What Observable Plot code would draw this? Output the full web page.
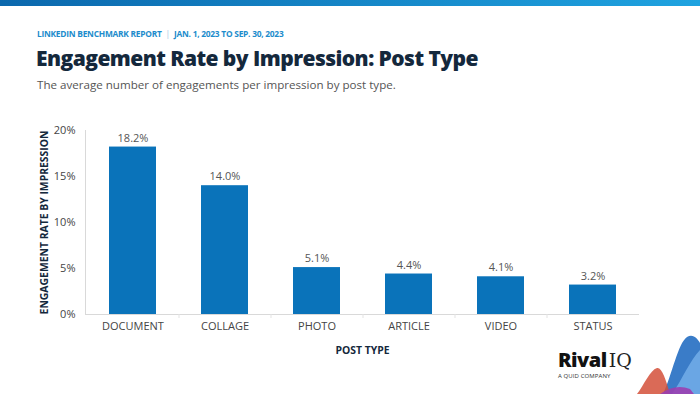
<!DOCTYPE html>
<html>
<head>
<meta charset="utf-8">
<script src="https://cdn.jsdelivr.net/npm/d3@7"></script>
<script src="https://cdn.jsdelivr.net/npm/@observablehq/plot@0.6"></script>
<style>
  html, body { margin: 0; padding: 0; background: #fff; }
  #page { position: relative; width: 700px; height: 394px; overflow: hidden; font-family: "Open Sans", sans-serif; }
  #topbar { position: absolute; left: 0; top: 0; width: 700px; height: 6px; background: linear-gradient(90deg, #0b68ad, #1fa3e0); }
  #kicker { position: absolute; left: 37px; top: 28px; font-size: 8.4px; font-weight: 700; color: #1d8ccc; letter-spacing: -0.25px; white-space: nowrap; }
  #kicker .sep { color: #9cc7e4; font-weight: 400; margin: 0 4px; }
  #title { position: absolute; left: 36px; top: 44px; font-size: 21px; font-weight: 800; color: #14283c; letter-spacing: -0.55px; white-space: nowrap; }
  #subtitle { position: absolute; left: 37px; top: 77px; font-size: 11.6px; color: #555; white-space: nowrap; }
  #chart { position: absolute; left: 0; top: 120px; }
  #logo { position: absolute; left: 558px; top: 350px; white-space: nowrap; line-height: 1; }
  #logo .rival { font-family: "Open Sans", sans-serif; font-weight: 800; font-size: 20px; color: #111; letter-spacing: -0.5px; }
  #logo .iq { font-family: "DejaVu Serif", serif; font-weight: 300; font-size: 19px; color: #222; margin-left: 2px; }
  #logo .quid { display: block; font-size: 6px; color: #333; margin-top: 3px; letter-spacing: 0.1px; }
  #deco { position: absolute; left: 630px; top: 325px; }
</style>
</head>
<body>
<div id="page">
  <div id="topbar"></div>
  <div id="kicker">LINKEDIN BENCHMARK REPORT<span class="sep">|</span>JAN. 1, 2023 TO SEP. 30, 2023</div>
  <div id="title">Engagement Rate by Impression: Post Type</div>
  <div id="subtitle">The average number of engagements per impression by post type.</div>
  <div id="chart"></div>
  <div id="logo"><span class="rival">Rival</span><span class="iq">IQ</span><span class="quid">A QUID COMPANY</span></div>
  <svg id="deco" width="70" height="69" viewBox="0 0 70 69">
    <path d="M33,69 C42,50 48,18 57,12 C63,8 68,14 70,18 L70,69 Z" fill="#3a7cc8"/>
    <path d="M42,69 C52,55 60,35 70,25 L70,69 Z" fill="#6aa6e4"/>
    <path d="M7,69 C14,60 20,45 27,43 C32,42 36,55 40,69 Z" fill="#d4503a" opacity="0.85"/>
    <path d="M30,69 C40,62 50,60 60,64 L64,69 Z" fill="#9b3fb0" opacity="0.9"/>
  </svg>
</div>
<script>
const postTypes = ["DOCUMENT", "COLLAGE", "PHOTO", "ARTICLE", "VIDEO", "STATUS"];
const rates = [18.2, 14.0, 5.1, 4.4, 4.1, 3.2];
const yTicks = [0, 5, 10, 15, 20];

const data = postTypes.map((t, i) => ({type: t, rate: rates[i]}));
const boundaries = postTypes.slice(0, -1);

const plot = Plot.plot({
  width: 700,
  height: 250,
  marginLeft: 85,
  marginRight: 61,
  marginTop: 10,
  marginBottom: 56,
  style: {fontFamily: "Open Sans, sans-serif", fontSize: "11px", color: "#444", background: "transparent"},
  x: {domain: postTypes, paddingInner: 0.49, paddingOuter: 0.245, label: null},
  y: {domain: [0, 20], label: null},
  marks: [
    Plot.barY(data, {x: "type", y: "rate", fill: "#0a73ba"}),
    Plot.text(data, {x: "type", y: "rate", text: d => d.rate.toFixed(1) + "%", dy: -9, fill: "#555", fontSize: 11}),
    Plot.ruleY([0], {stroke: "#d9d9d9"}),
    Plot.frame({anchor: "left", stroke: "#d9d9d9"}),
    Plot.ruleX(boundaries, {x: d => d, y1: 0, y2: 0, dx: 46, insetBottom: -4, stroke: "#e3e3e3"}),
    Plot.axisY(yTicks, {tickSize: 0, tickPadding: 10, tickFormat: d => d + "%", fill: "#444", fontSize: 11, label: "ENGAGEMENT RATE BY IMPRESSION", labelAnchor: "center", labelArrow: "none", labelOffset: 45}),
    Plot.axisX({tickSize: 0, tickPadding: 8, fill: "#444", fontSize: 11, label: "POST TYPE", labelAnchor: "center", labelArrow: "none", labelOffset: 39})
  ]
});

d3.select(plot).selectAll("[aria-label='y-axis label'] text, [aria-label='x-axis label'] text")
  .attr("font-weight", 700).attr("fill", "#14283c").style("font-size", "10.4px");
document.getElementById("chart").appendChild(plot);
</script>
</body>
</html>
